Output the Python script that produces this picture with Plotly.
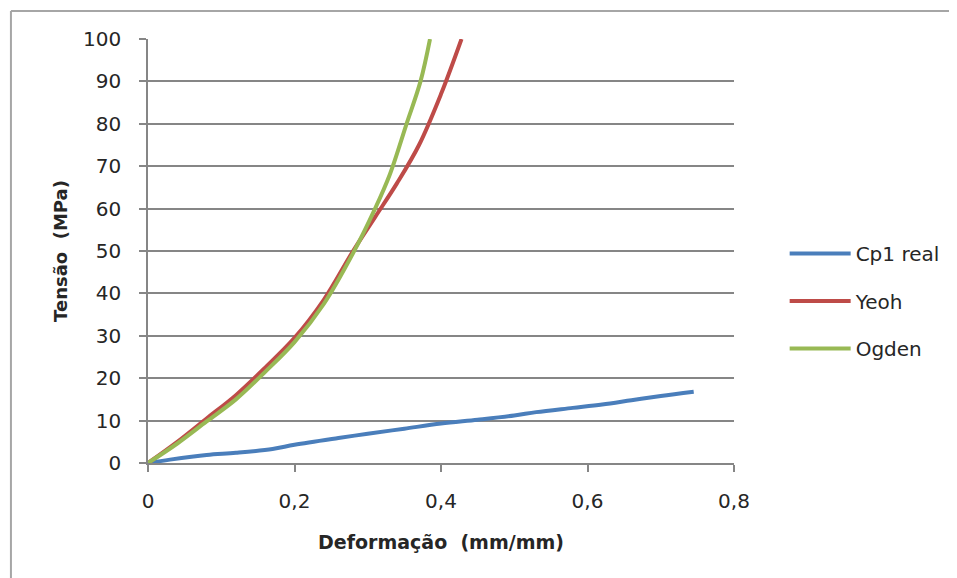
import plotly.graph_objects as go

# Data
cp1_x = [0, 0.03, 0.08, 0.12, 0.17, 0.2, 0.26, 0.3, 0.35, 0.4, 0.45, 0.5, 0.53, 0.58, 0.62, 0.66, 0.7, 0.745]
cp1_y = [0, 0.8, 1.9, 2.4, 3.3, 4.3, 5.9, 6.9, 8.1, 9.3, 10.2, 11.2, 12.0, 13.0, 13.8, 14.8, 15.8, 16.8]

yeoh_x = [0, 0.04, 0.08, 0.12, 0.16, 0.2, 0.24, 0.28, 0.31, 0.34, 0.37, 0.40, 0.428]
yeoh_y = [0, 5, 10.5, 16, 22.5, 29.5, 38.5, 50, 58, 66, 75, 87, 100]

ogden_x = [0, 0.04, 0.08, 0.12, 0.16, 0.2, 0.24, 0.28, 0.31, 0.33, 0.353, 0.372, 0.385]
ogden_y = [0, 4.6, 9.8, 15, 21.5, 28.5, 37.5, 49.5, 60, 68, 80, 90, 100]

x_ticks = [0, 0.2, 0.4, 0.6, 0.8]
y_ticks = list(range(0, 101, 10))

font_family = "DejaVu Sans, Verdana, sans-serif"

fig = go.Figure()
fig.add_trace(go.Scatter(x=cp1_x, y=cp1_y, mode="lines", name="Cp1 real",
                         line=dict(color="#4A7EBB", width=4, shape="spline", smoothing=1.0),
                         legendgroup="a"))
fig.add_trace(go.Scatter(x=yeoh_x, y=yeoh_y, mode="lines", name="Yeoh",
                         line=dict(color="#BE4B48", width=4, shape="spline", smoothing=1.0),
                         legendgroup="b"))
fig.add_trace(go.Scatter(x=ogden_x, y=ogden_y, mode="lines", name="Ogden",
                         line=dict(color="#98B954", width=4, shape="spline", smoothing=1.0),
                         legendgroup="c"))

OFF = 8  # page body margin
W, H = 957 - OFF, 578 - OFF
L, T = 148 - OFF, 39 - OFF
pw, ph = 590, 424
R, B = W - L - pw, H - T - ph

def px(xp):
    return (xp - OFF - L) / pw

def py(yp):
    return (T + ph - (yp - OFF)) / ph

fig.update_layout(
    width=W, height=H,
    margin=dict(l=L, r=R, t=T, b=B),
    paper_bgcolor="white", plot_bgcolor="white",
    separators=", ",
    font=dict(family=font_family, size=20, color="#262626"),
    showlegend=True,
    legend=dict(x=px(789), y=py(234), xanchor="left", yanchor="top",
                font=dict(size=20, color="#262626"),
                tracegroupgap=18.5, itemwidth=61, bgcolor="rgba(0,0,0,0)"),
    xaxis=dict(range=[0, 0.8], tickvals=x_ticks, showgrid=False,
               showline=True, linecolor="#868686", linewidth=1.5,
               ticks="outside", ticklen=7, tickcolor="#868686", tickwidth=1.5,
               tickfont=dict(size=20), zeroline=False, ticklabelstandoff=12,
               title=dict(text="<b>Deformação  (mm/mm)</b>", font=dict(size=19), standoff=24)),
    yaxis=dict(range=[0, 100], tickvals=y_ticks, showgrid=True,
               gridcolor="#868686", gridwidth=1.5,
               showline=True, linecolor="#868686", linewidth=1.5,
               ticks="outside", ticklen=7, tickcolor="#868686", tickwidth=1.5,
               tickfont=dict(size=20), zeroline=False, ticklabelstandoff=14,
               title=dict(text="<b>Tensão  (MPa)</b>", font=dict(size=18), standoff=11)),
    shapes=[
        dict(type="line", xref="paper", yref="paper", x0=px(10), x1=px(970), y0=py(11), y1=py(11),
             line=dict(color="#A6A6A6", width=2)),
        dict(type="line", xref="paper", yref="paper", x0=px(10), x1=px(10), y0=py(11), y1=py(590),
             line=dict(color="#A6A6A6", width=2)),
    ],
)

fig.write_html("out.html")
